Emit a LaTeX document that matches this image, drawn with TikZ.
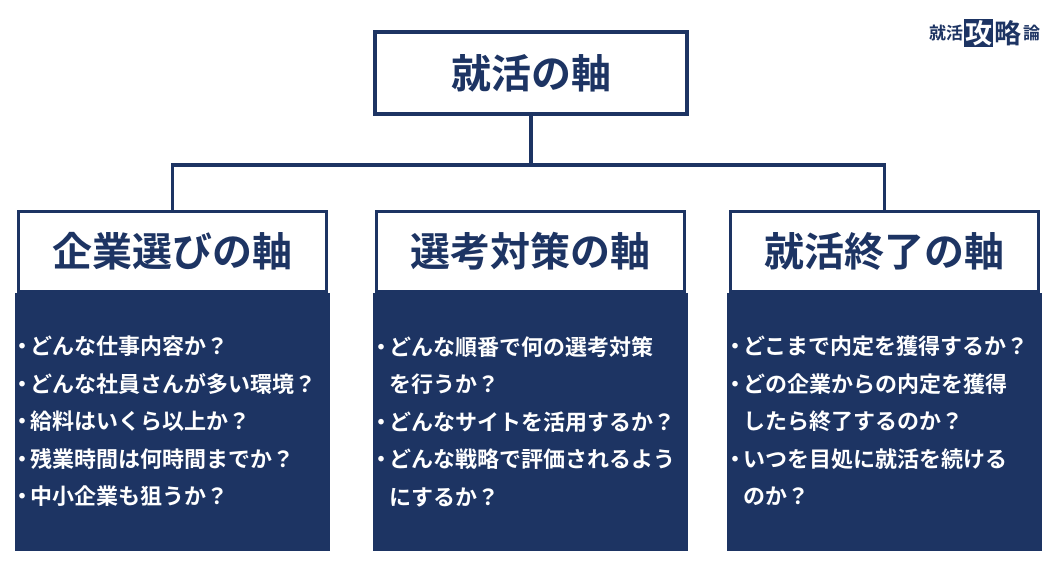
\documentclass[tikz,border=0pt]{standalone}
\usepackage{fontspec}
\setmainfont{Noto Sans CJK JP}[BoldFont={* Bold}]
\usetikzlibrary{positioning}
\definecolor{navy}{HTML}{1D3463}
\newcommand\bul{\makebox[15pt][c]{・}}
\newcommand\ind{\hspace*{15pt}}
\begin{document}
\begin{tikzpicture}[x=1pt,y=-1pt,
  head/.style={draw=navy,line width=3.5pt,fill=white,text=navy,font=\bfseries\fontsize{40}{40}\selectfont,minimum width=308pt,minimum height=80pt,inner sep=0pt},
  body/.style={fill=navy,minimum width=315pt,minimum height=258pt,anchor=north,inner sep=0pt},
  item/.style={text=white,font=\bfseries\fontsize{22}{37.5}\selectfont,anchor=north west,align=left,inner sep=0pt},
  link/.style={draw=navy,line width=3.5pt}]

\useasboundingbox (0,0) rectangle (1060,570);

%% Top
\node[head,minimum width=312pt,minimum height=82pt] (top) at (531,73) {就活の軸};

%% Columns
\foreach \n/\cx/\ttl in {comp/172.5/企業選びの軸, sel/530.5/選考対策の軸, end/884.5/就活終了の軸}{
  \node[body] (\n body) at (\cx,293) {};
  \node[head] (\n) at (\cx,251.5) {\ttl};
}

\node[item] at (15,336) {\bul どんな仕事内容か？\\\bul どんな社員さんが多い環境？\\\bul 給料はいくら以上か？\\\bul 残業時間は何時間までか？\\\bul 中小企業も狙うか？};
\node[item] at (374,336) {\bul どんな順番で何の選考対策\\\ind を行うか？\\\bul どんなサイトを活用するか？\\\bul どんな戦略で評価されるよう\\\ind にするか？};
\node[item] at (728,336) {\bul どこまで内定を獲得するか？\\\bul どの企業からの内定を獲得\\\ind したら終了するのか？\\\bul いつを目処に就活を続ける\\\ind のか？};

%% Connectors
\coordinate (mid) at (531,165);
\draw[link] (top.south) -- (mid);
\draw[link] (comp.north) |- (mid) -| (end.north);

%% Logo
\node[text=navy,font=\bfseries\fontsize{17}{17}\selectfont,inner sep=0pt] (logoa) at (946,33) {就活};
\node[fill=navy,text=white,font=\bfseries\fontsize{27}{27}\selectfont,inner sep=1pt,right=1pt of logoa] (logob) {攻};
\node[text=navy,font=\bfseries\fontsize{27}{27}\selectfont,inner sep=0pt,right=1pt of logob] (logoc) {略};
\node[text=navy,font=\bfseries\fontsize{17}{17}\selectfont,inner sep=0pt,right=1pt of logoc] (logod) {論};
\end{tikzpicture}
\end{document}
